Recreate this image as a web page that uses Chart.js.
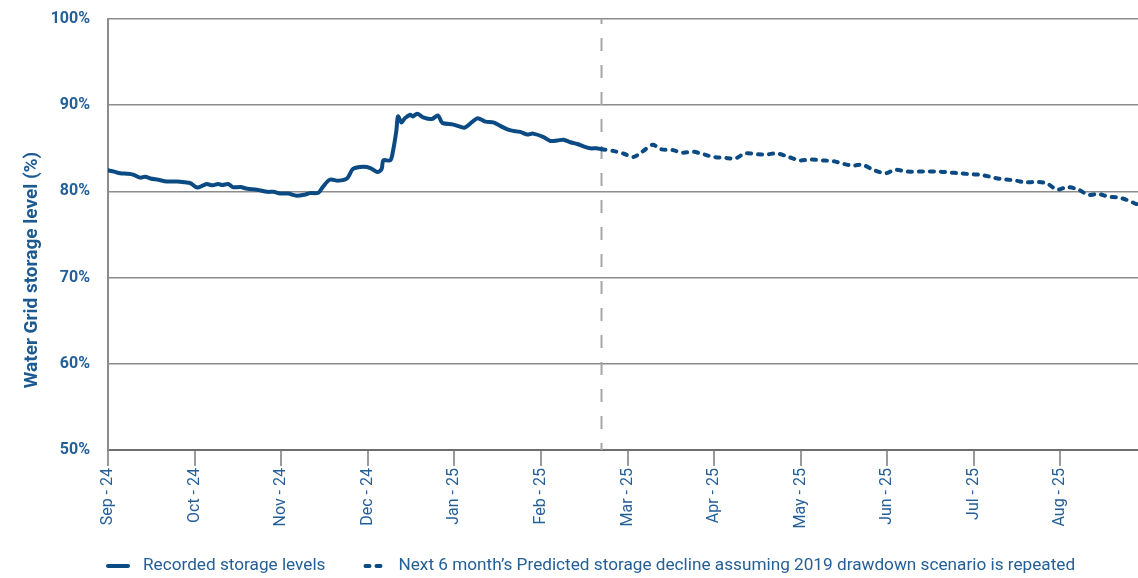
<!DOCTYPE html>
<html>
<head>
<meta charset="utf-8">
<script src="https://cdn.jsdelivr.net/npm/chart.js@4/dist/chart.umd.min.js"></script>
<style>
  html, body { margin: 0; padding: 0; background: #fff; overflow: hidden; }
  #chartContainer { position: absolute; left: 0; top: 0; width: 1160px; height: 578px; }
</style>
</head>
<body>
<div id="chartContainer"><canvas id="storageChart"></canvas></div>
<script>
// month positions: 0 = Sep 2024, 12 = Sep 2025
const monthLabels = ["Sep - 24", "Oct - 24", "Nov - 24", "Dec - 24", "Jan - 25", "Feb - 25",
  "Mar - 25", "Apr - 25", "May - 25", "Jun - 25", "Jul - 25", "Aug - 25", "Sep - 25"];

const recordedMonth = [0.00, 0.07, 0.14, 0.22, 0.29, 0.37, 0.43, 0.49, 0.58, 0.68, 0.80, 0.89, 0.95,
  1.03, 1.10, 1.14, 1.21, 1.27, 1.32, 1.39, 1.44, 1.53, 1.61, 1.72, 1.84, 1.91, 1.99, 2.08, 2.18,
  2.28, 2.33, 2.43, 2.48, 2.56, 2.66, 2.76, 2.83, 2.95, 3.03, 3.11, 3.16, 3.18, 3.26, 3.29, 3.33,
  3.35, 3.39, 3.43, 3.49, 3.52, 3.57, 3.64, 3.74, 3.81, 3.85, 3.87, 3.99, 4.07, 4.12, 4.21, 4.27,
  4.36, 4.45, 4.53, 4.64, 4.76, 4.84, 4.91, 5.03, 5.11, 5.19, 5.26, 5.34, 5.42, 5.50, 5.57, 5.64, 5.70];
const recordedLevel = [82.45, 82.3, 82.1, 82.05, 81.95, 81.6, 81.7, 81.5, 81.35, 81.15, 81.15, 81.05, 80.95,
  80.45, 80.7, 80.85, 80.7, 80.85, 80.75, 80.85, 80.5, 80.5, 80.3, 80.2, 79.95, 79.95, 79.75, 79.75, 79.5,
  79.65, 79.8, 79.85, 80.5, 81.35, 81.25, 81.5, 82.6, 82.85, 82.7, 82.25, 82.6, 83.6, 83.6, 84.6, 87.0,
  88.7, 88.0, 88.5, 88.9, 88.7, 89.0, 88.6, 88.4, 88.8, 88.1, 87.9, 87.75, 87.5, 87.4, 88.1, 88.5,
  88.1, 88.0, 87.6, 87.1, 86.9, 86.6, 86.7, 86.3, 85.85, 85.9, 86.0, 85.7, 85.5, 85.2, 85.0, 85.0, 84.9];

const predictedMonth = [5.70, 5.83, 5.95, 6.07, 6.17, 6.29, 6.38, 6.52, 6.63, 6.76, 6.88, 6.99, 7.13,
  7.24, 7.36, 7.50, 7.61, 7.73, 7.86, 7.99, 8.11, 8.25, 8.38, 8.49, 8.61, 8.71, 8.84, 8.98, 9.09,
  9.23, 9.35, 9.47, 9.59, 9.71, 9.84, 9.96, 10.10, 10.23, 10.34, 10.46, 10.59, 10.73, 10.85, 10.96,
  11.08, 11.21, 11.32, 11.44, 11.55, 11.67, 11.77, 11.89, 12.00];
const predictedLevel = [84.9, 84.7, 84.4, 84.0, 84.6, 85.4, 84.9, 84.8, 84.5, 84.6, 84.3, 84.0, 83.9,
  83.8, 84.4, 84.3, 84.3, 84.4, 84.0, 83.6, 83.7, 83.6, 83.5, 83.2, 83.0, 83.1, 82.5, 82.1, 82.5,
  82.3, 82.3, 82.3, 82.3, 82.2, 82.1, 82.0, 81.9, 81.6, 81.4, 81.3, 81.05, 81.1, 80.9, 80.2,
  80.5, 80.2, 79.6, 79.7, 79.4, 79.3, 79.0, 78.5, 78.2];

const yTicks = [50, 60, 70, 80, 90, 100];

const lineBlue = "#0b4a82";
const textBlue = "#245f97";
const gridGrey = "#8c8c8c";

function toPoints(xs, ys) {
  return xs.map(function (x, i) { return { x: x, y: ys[i] }; });
}

// dashed marker where the forecast starts, plus the y title and legend
const extrasPlugin = {
  id: "extras",
  beforeDatasetsDraw: function (chart) {
    const ctx = chart.ctx;
    const area = chart.chartArea;
    const x = chart.scales.x.getPixelForValue(predictedMonth[0]);
    ctx.save();
    ctx.strokeStyle = "#a6a6a6";
    ctx.lineWidth = 2;
    ctx.setLineDash([13, 14]);
    ctx.lineDashOffset = 8;
    ctx.beginPath();
    ctx.moveTo(x, area.top);
    ctx.lineTo(x, area.bottom);
    ctx.stroke();
    ctx.restore();
  },
  afterDraw: function (chart) {
    const ctx = chart.ctx;
    const area = chart.chartArea;
    ctx.save();

    // y axis title
    ctx.translate(32, 270);
    ctx.rotate(-Math.PI / 2);
    ctx.fillStyle = "#1d5a92";
    ctx.font = "bold 19px Roboto";
    ctx.textAlign = "center";
    ctx.textBaseline = "middle";
    ctx.fillText("Water Grid storage level (%)", 0, 0);
    ctx.setTransform(1, 0, 0, 1, 0, 0);

    // legend
    let lx = area.left;
    const ly = 566;
    ctx.font = "17.2px Roboto";
    ctx.textBaseline = "middle";
    ctx.textAlign = "left";
    chart.data.datasets.forEach(function (ds) {
      ctx.strokeStyle = ds.borderColor;
      ctx.lineWidth = ds.borderWidth;
      ctx.lineCap = ds.borderCapStyle;
      ctx.setLineDash(ds.borderDash || []);
      ctx.beginPath();
      ctx.moveTo(lx + (ds.borderDash ? 2 : 0), ly);
      ctx.lineTo(lx + 20, ly);
      ctx.stroke();
      ctx.setLineDash([]);
      ctx.fillStyle = textBlue;
      ctx.fillText(ds.label, lx + 35, ly);
      lx += 35 + ctx.measureText(ds.label).width + 38;
    });
    ctx.restore();
  }
};

const config = {
  type: "line",
  data: {
    datasets: [
      {
        label: "Recorded storage levels",
        data: toPoints(recordedMonth, recordedLevel),
        borderColor: lineBlue,
        borderWidth: 4,
        borderCapStyle: "round",
        borderJoinStyle: "round",
        tension: 0.3,
        pointRadius: 0,
        fill: false
      },
      {
        label: "Next 6 month\u2019s Predicted storage decline assuming 2019 drawdown scenario is repeated",
        data: toPoints(predictedMonth, predictedLevel),
        borderColor: lineBlue,
        borderWidth: 4,
        borderCapStyle: "round",
        borderDash: [4, 7],
        tension: 0.3,
        pointRadius: 0,
        fill: false
      }
    ]
  },
  options: {
    responsive: true,
    maintainAspectRatio: false,
    animation: false,
    layout: { padding: { left: 0, right: 13, top: 19, bottom: 28 } },
    plugins: {
      legend: { display: false },
      tooltip: { enabled: false }
    },
    scales: {
      x: {
        type: "linear",
        min: 0,
        max: monthLabels.length - 1,
        afterFit: function (scale) {
          scale.height = 100;
          scale.paddingLeft = 0;
          scale.paddingRight = 0;
        },
        afterBuildTicks: function (scale) {
          scale.ticks = monthLabels.map(function (_, i) { return { value: i }; });
        },
        ticks: {
          autoSkip: false,
          minRotation: 90,
          maxRotation: 90,
          padding: 2,
          color: textBlue,
          font: { family: "Roboto", size: 16 },
          callback: function (value) { return monthLabels[value]; }
        },
        grid: {
          drawOnChartArea: false,
          drawTicks: true,
          tickLength: 16,
          color: "#9a9a9a",
          lineWidth: 2
        },
        border: { display: true, color: "#6e6e6e", width: 2 }
      },
      y: {
        min: yTicks[0],
        max: yTicks[yTicks.length - 1],
        afterFit: function (scale) {
          scale.width = 108;
          scale.paddingTop = 0;
          scale.paddingBottom = 0;
        },
        afterBuildTicks: function (scale) {
          scale.ticks = yTicks.map(function (v) { return { value: v }; });
        },
        ticks: {
          padding: 18,
          color: textBlue,
          font: { family: "Roboto", size: 16, weight: "bold" },
          callback: function (value) { return value + "%"; }
        },
        grid: {
          color: gridGrey,
          lineWidth: 1.5,
          drawTicks: false
        },
        border: { display: true, color: gridGrey, width: 2 }
      }
    }
  },
  plugins: [extrasPlugin]
};

new Chart(document.getElementById("storageChart").getContext("2d"), config);
</script>
</body>
</html>
